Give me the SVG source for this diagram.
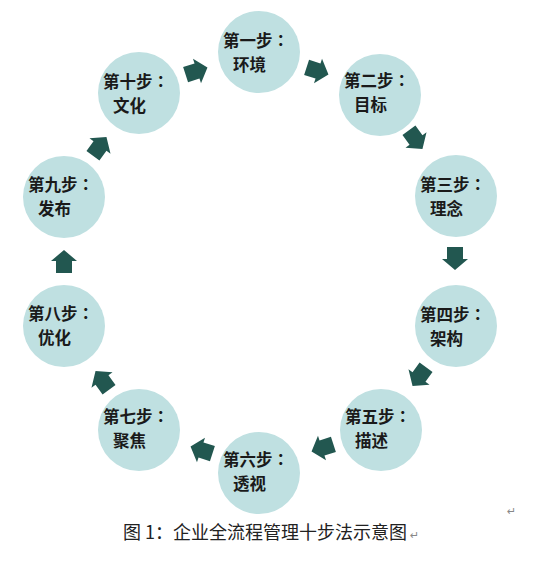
<svg xmlns="http://www.w3.org/2000/svg" width="548" height="562" viewBox="0 0 548 562">
<style>
.c{fill:#bfe0e1;}
.t{font-family:"Noto Sans CJK SC","Noto Sans",sans-serif;font-size:16.5px;font-weight:bold;fill:#1a1a1a;}
.k{font-family:"Noto Sans CJK TC","Noto Sans CJK SC",sans-serif;}
.a{fill:#225750;}
.cap{font-family:"Noto Sans CJK SC","Noto Sans",sans-serif;font-size:18px;fill:#222;}
.pm{font-family:"DejaVu Sans",sans-serif;font-size:11px;fill:#888;}
</style>
<defs>
<path id="arr" d="M-12,-8 L0,-8 L0,-13 L11,0 L0,13 L0,8 L-12,8 Z"/>
</defs>
<rect width="548" height="562" fill="#ffffff"/>
<g id="connectors">
<use href="#arr" class="a" transform="translate(318,71) rotate(18)"/>
<use href="#arr" class="a" transform="translate(416,140) rotate(54)"/>
<use href="#arr" class="a" transform="translate(455,259) rotate(90)"/>
<use href="#arr" class="a" transform="translate(419,377) rotate(126)"/>
<use href="#arr" class="a" transform="translate(322,448) rotate(162)"/>
<use href="#arr" class="a" transform="translate(201,450) rotate(198)"/>
<use href="#arr" class="a" transform="translate(102,380) rotate(234)"/>
<use href="#arr" class="a" transform="translate(64,261) rotate(270)"/>
<use href="#arr" class="a" transform="translate(100,146) rotate(306)"/>
<use href="#arr" class="a" transform="translate(197,71) rotate(342)"/>
</g>
<g id="step1"><circle class="c" cx="259" cy="52" r="41"/><text class="t" x="223" y="47">第一步<tspan class="k">：</tspan><tspan x="233" dy="24">环境</tspan></text></g>
<g id="step2"><circle class="c" cx="380" cy="95" r="41"/><text class="t" x="344" y="87">第二步<tspan class="k">：</tspan><tspan x="354" dy="24">目标</tspan></text></g>
<g id="step3"><circle class="c" cx="456" cy="196" r="41"/><text class="t" x="420" y="191">第三步<tspan class="k">：</tspan><tspan x="430" dy="24">理念</tspan></text></g>
<g id="step4"><circle class="c" cx="456" cy="326" r="41"/><text class="t" x="420" y="321">第四步<tspan class="k">：</tspan><tspan x="430" dy="24">架构</tspan></text></g>
<g id="step5"><circle class="c" cx="381" cy="430" r="41"/><text class="t" x="345" y="423">第五步<tspan class="k">：</tspan><tspan x="355" dy="24">描述</tspan></text></g>
<g id="step6"><circle class="c" cx="259" cy="473" r="41"/><text class="t" x="223" y="466">第六步<tspan class="k">：</tspan><tspan x="233" dy="24">透视</tspan></text></g>
<g id="step7"><circle class="c" cx="139" cy="430" r="41"/><text class="t" x="103" y="423">第七步<tspan class="k">：</tspan><tspan x="113" dy="24">聚焦</tspan></text></g>
<g id="step8"><circle class="c" cx="64" cy="326" r="41"/><text class="t" x="28" y="320">第八步<tspan class="k">：</tspan><tspan x="38" dy="24">优化</tspan></text></g>
<g id="step9"><circle class="c" cx="64" cy="197" r="41"/><text class="t" x="28" y="191">第九步<tspan class="k">：</tspan><tspan x="38" dy="24">发布</tspan></text></g>
<g id="step10"><circle class="c" cx="139" cy="93" r="41"/><text class="t" x="103" y="88">第十步<tspan class="k">：</tspan><tspan x="113" dy="24">文化</tspan></text></g>
<g id="caption"><text class="cap" x="123" y="539">图 1：企业全流程管理十步法示意图</text><text class="pm" x="410" y="539">↵</text><text class="pm" x="507" y="515">↵</text></g>
</svg>
